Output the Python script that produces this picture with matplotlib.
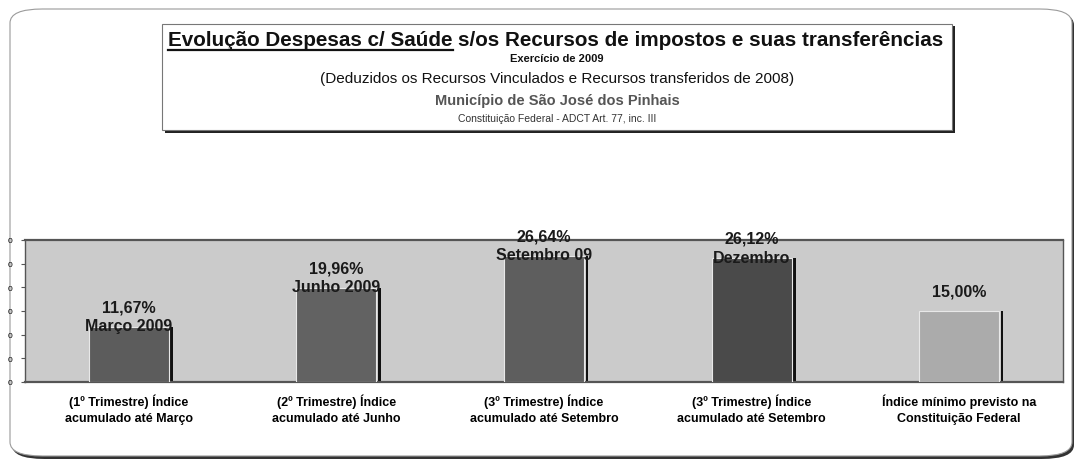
import matplotlib.pyplot as plt
from matplotlib.patches import FancyBboxPatch, Rectangle
from matplotlib.ticker import FuncFormatter

plt.rcParams['font.family'] = ['Liberation Sans', 'DejaVu Sans']

categories = ['(1º Trimestre) Índice\nacumulado até Março',
              '(2º Trimestre) Índice\nacumulado até Junho',
              '(3º Trimestre) Índice\nacumulado até Setembro',
              '(3º Trimestre) Índice\nacumulado até Setembro',
              'Índice mínimo previsto na\nConstituição Federal']
values = [11.67, 19.96, 26.64, 26.12, 15.00]
value_labels = ['11,67%', '19,96%', '26,64%', '26,12%', '15,00%']
period_labels = ['Março 2009', 'Junho 2009', 'Setembro 09', 'Dezembro', '']
bar_colors = ['#5c5c5c', '#626262', '#5e5e5e', '#4a4a4a', '#ababab']
yticks = [0, 5, 10, 15, 20, 25, 30]

W, H = 1081, 464
fig = plt.figure(figsize=(W / 100, H / 100), dpi=100)


def fx(px):
    return px / W


def fy(py):
    return 1 - py / H


# outer rounded frame with shadow
fig.patches.append(FancyBboxPatch((fx(12), fy(460)), fx(1062), 448 / H,
                                  boxstyle='round,pad=0,rounding_size=0.03',
                                  transform=fig.transFigure, facecolor='#333333',
                                  edgecolor='none', zorder=-3))
fig.patches.append(FancyBboxPatch((fx(10), fy(457)), fx(1062), 447 / H,
                                  boxstyle='round,pad=0,rounding_size=0.03',
                                  transform=fig.transFigure, facecolor='white',
                                  edgecolor='#9a9a9a', lw=0.8, zorder=-2))

# title box with shadow
fig.patches.append(Rectangle((fx(165), fy(134)), fx(790), 107 / H,
                             transform=fig.transFigure, facecolor='#222222',
                             edgecolor='none', zorder=-1))
fig.patches.append(Rectangle((fx(162), fy(131)), fx(790), 106 / H,
                             transform=fig.transFigure, facecolor='white',
                             edgecolor='#777777', lw=0.8, zorder=-0.5))

t1 = fig.text(fx(168), fy(40), 'Evolução Despesas c/ Saúde', fontsize=14.85,
              fontweight='bold', ha='left', va='center', color='#111111')
fig.canvas.draw()
r = fig.canvas.get_renderer()
bb = t1.get_window_extent(r)
fig.text(bb.x1 / W + fx(5), fy(40), 's/os Recursos de impostos e suas transferências',
         fontsize=14.85, fontweight='bold', ha='left', va='center', color='#111111')
fig.add_artist(plt.Line2D([bb.x0 / W, bb.x1 / W], [bb.y0 / H - 0.003, bb.y0 / H - 0.003],
                          transform=fig.transFigure, color='#111111', lw=1.6))

fig.text(fx(557), fy(59), 'Exercício de 2009', fontsize=8, fontweight='bold',
         ha='center', va='center', color='#111111')
fig.text(fx(557), fy(79), '(Deduzidos os Recursos Vinculados e Recursos transferidos de 2008)',
         fontsize=11, ha='center', va='center', color='#111111')
fig.text(fx(557), fy(101), 'Município de São José dos Pinhais', fontsize=10.5,
         fontweight='bold', ha='center', va='center', color='#555555')
fig.text(fx(557), fy(119), 'Constituição Federal - ADCT Art. 77, inc. III', fontsize=7.5,
         ha='center', va='center', color='#333333')

# chart area
ax = fig.add_axes([fx(25), 81 / H, 1038 / W, 142 / H])
ax.set_facecolor('#cbcbcb')
x = list(range(len(values)))
bw = 0.385
ax.bar([i + bw / 2 + 0.014 for i in x], values, width=0.013, color='#111111', zorder=2)
ax.bar(x, values, width=bw, color=bar_colors, edgecolor='#e8e8e8', linewidth=0.8, zorder=3)

for i, v in enumerate(values):
    ax.annotate(value_labels[i], (i, v), xytext=(0, 20), textcoords='offset pixels',
                ha='center', va='center', fontsize=11.5, fontweight='bold',
                color='#1a1a1a', zorder=5, annotation_clip=False)
    if period_labels[i]:
        ax.annotate(period_labels[i], (i, v), xytext=(0, 1), textcoords='offset pixels',
                    ha='center', va='center', fontsize=11.5, fontweight='bold',
                    color='#1a1a1a', zorder=5, annotation_clip=False)

ax.set_xlim(-0.5, len(values) - 0.5)
ax.set_ylim(0, 30)
ax.set_yticks(yticks)
ax.yaxis.set_major_formatter(FuncFormatter(lambda v, p: '0'))
ax.tick_params(axis='y', labelsize=6, length=3, color='#555555', pad=6)
ax.set_xticks(x)
ax.set_xticklabels(categories, fontsize=9, fontweight='bold', linespacing=1.5)
ax.tick_params(axis='x', length=0, pad=8)
for s in ax.spines.values():
    s.set_color('#555555')
    s.set_linewidth(1.0)
ax.spines['top'].set_linewidth(1.6)
ax.spines['bottom'].set_linewidth(1.6)

plt.savefig('out.png', dpi=100)
plt.close()
